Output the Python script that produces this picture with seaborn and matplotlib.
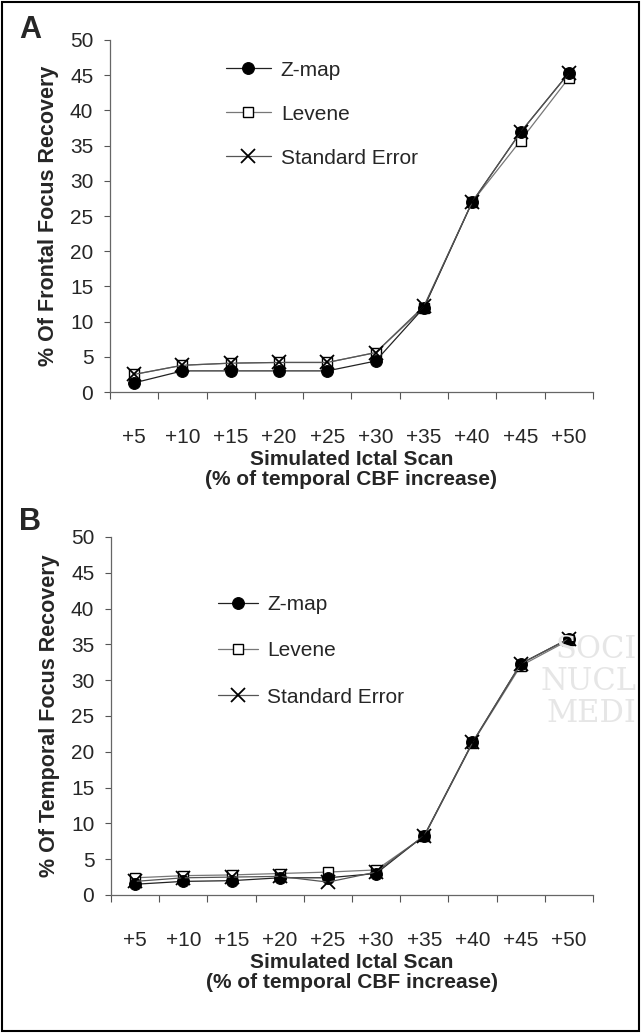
import matplotlib
matplotlib.use('Agg')
import matplotlib.pyplot as plt
import matplotlib.patches as patches
import pandas as pd
import seaborn as sns

scans = ['+5', '+10', '+15', '+20', '+25', '+30', '+35', '+40', '+45', '+50']

# panel A - frontal focus
frontal_zmap = [1.3, 3.0, 3.0, 3.0, 3.0, 4.4, 12.0, 27.0, 36.9, 45.3]
frontal_levene = [2.5, 3.8, 4.1, 4.2, 4.2, 5.6, 12.0, 27.0, 35.7, 44.6]
frontal_se = [2.5, 3.8, 4.1, 4.2, 4.2, 5.6, 12.2, 27.0, 36.9, 45.3]

# panel B - temporal focus
temporal_zmap = [1.5, 1.9, 2.0, 2.4, 2.4, 3.0, 8.3, 21.3, 32.3, 35.8]
temporal_levene = [2.4, 2.7, 2.8, 3.0, 3.2, 3.5, 8.2, 21.2, 32.0, 35.6]
temporal_se = [1.9, 2.4, 2.5, 2.6, 1.8, 3.2, 8.3, 21.3, 32.3, 35.8]

sns.set_style('ticks')
plt.rcParams['font.family'] = ['Liberation Sans', 'DejaVu Sans']

fig = plt.figure(figsize=(6.41, 10.33), dpi=100)
axA = fig.add_axes([0.1716, 0.6205, 0.7535, 0.3408])
axB = fig.add_axes([0.1732, 0.1336, 0.7519, 0.3466])


def draw_panel(ax, zmap, levene, se, ylabel, leg_anchor, leg_space, hlen):
    df = pd.DataFrame({'pos': range(len(scans)), 'Z-map': zmap,
                       'Levene': levene, 'Standard Error': se})
    sns.lineplot(data=df, x='pos', y='Levene', ax=ax, color='#777777', lw=0.9,
                 marker='s', markersize=7, markerfacecolor='white',
                 markeredgecolor='black', markeredgewidth=1.0, label='Levene')
    sns.lineplot(data=df, x='pos', y='Z-map', ax=ax, color='#222222', lw=0.9,
                 marker='o', markersize=8.5, markerfacecolor='black',
                 markeredgecolor='black', label='Z-map')
    sns.lineplot(data=df, x='pos', y='Standard Error', ax=ax, color='#555555', lw=0.9,
                 marker='x', markersize=10, markeredgecolor='black',
                 markeredgewidth=1.3, label='Standard Error')

    ax.set_xlim(-0.5, len(scans) - 0.5)
    ax.set_ylim(0, 50)
    ax.set_yticks(range(0, 51, 5))
    ax.set_xticks([i - 0.5 for i in range(len(scans) + 1)])
    ax.set_xticklabels([])
    ax.set_xticks(range(len(scans)), minor=True)
    ax.set_xticklabels(scans, minor=True)
    ax.tick_params(axis='x', which='major', length=5, width=0.8, color='#555555')
    ax.tick_params(axis='x', which='minor', length=0, pad=26, labelsize=15)
    ax.tick_params(axis='y', length=4, width=0.8, color='#555555', labelsize=15, pad=8)
    for s in ['top', 'right']:
        ax.spines[s].set_visible(False)
    for s in ['left', 'bottom']:
        ax.spines[s].set_color('#666666')
        ax.spines[s].set_linewidth(0.9)

    ax.set_xlabel('Simulated Ictal Scan\n(% of temporal CBF increase)',
                  fontsize=15, fontweight='bold', labelpad=2, linespacing=1.05)
    ax.set_ylabel(ylabel, fontsize=15.5, fontweight='bold', labelpad=8)

    handles, labels = ax.get_legend_handles_labels()
    order = [1, 0, 2]
    ax.legend([handles[i] for i in order], [labels[i] for i in order],
              loc='upper left', bbox_to_anchor=leg_anchor, frameon=False,
              fontsize=15, labelspacing=leg_space, handlelength=hlen,
              handletextpad=0.45, borderaxespad=0)


draw_panel(axA, frontal_zmap, frontal_levene, frontal_se,
           '% Of Frontal Focus Recovery', (0.222, 0.965), 1.2, 2.2)
draw_panel(axB, temporal_zmap, temporal_levene, temporal_se,
           '% Of Temporal Focus Recovery', (0.205, 0.86), 1.3, 1.9)

# faint watermark
fig.text(0.993, 0.34, 'SOCI\nNUCL\nMEDI', fontsize=22, color='#e6e6e6',
         family='DejaVu Serif', va='center', ha='right', linespacing=1.05, zorder=0)

fig.text(0.03, 0.985, 'A', fontsize=22, fontweight='bold', va='top')
fig.text(0.03, 0.509, 'B', fontsize=22, fontweight='bold', va='top')

fig.patches.append(patches.Rectangle((0.003, 0.002), 0.994, 0.996, transform=fig.transFigure,
                                     fill=False, edgecolor='black', linewidth=1.5))

fig.savefig('out.png', dpi=100)
